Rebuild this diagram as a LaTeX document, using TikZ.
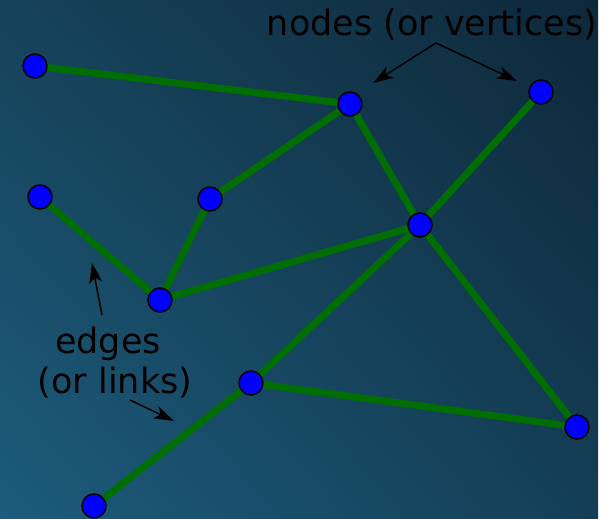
\documentclass[tikz,border=0pt]{standalone}
\usepackage{fontspec}
\setmainfont{DejaVu Sans}
\usetikzlibrary{arrows.meta,shadings}
\definecolor{bgul}{RGB}{22,66,90}
\definecolor{bgur}{RGB}{14,40,58}
\definecolor{bgll}{RGB}{28,92,124}
\definecolor{bglr}{RGB}{20,62,86}
\definecolor{linkgreen}{RGB}{0,110,0}

\begin{document}
\begin{tikzpicture}[x=1pt, y=-1pt, >={Stealth[length=20pt,width=13pt,inset=5pt]},
  vertex/.style={circle, draw=black, fill=blue, line width=1.5pt, inner sep=0pt, minimum size=24pt},
  link/.style={draw=linkgreen, line width=7pt},
  callout/.style={->, black, line width=1.5pt},
  lbl/.style={font=\fontsize{35}{39}\selectfont, text=black}]
	\useasboundingbox (0,0) rectangle (611,519);
	\shade[upper left=bgul, upper right=bgur, lower left=bgll, lower right=bglr] (0,0) rectangle (598,519);

	\node[vertex] (A) at (35,66)   {};
	\node[vertex] (B) at (350,104) {};
	\node[vertex] (C) at (541,92)  {};
	\node[vertex] (D) at (40,197)  {};
	\node[vertex] (E) at (210,199) {};
	\node[vertex] (F) at (420,225) {};
	\node[vertex] (G) at (160,300) {};
	\node[vertex] (H) at (251,383) {};
	\node[vertex] (I) at (577,427) {};
	\node[vertex] (J) at (94,506)  {};

	\path[link] (A) edge (B)
		(B) edge (E)
		(B) edge (F)
		(C) edge (F)
		(D) edge (G)
		(E) edge (G)
		(G) edge (F)
		(F) edge (H)
		(F) edge (I)
		(H) edge (I)
		(H) edge (J);

	% labels
	\node[lbl] (nodestxt) at (432,25) {nodes (or vertices)};
	\node[lbl] (edgestxt) at (108,344) {edges};
	\node[lbl] (linkstxt) at (115,383) {(or links)};

	\coordinate (nfrom) at (436,43);
	\coordinate (nto1)  at (373,83);
	\coordinate (nto2)  at (517,81);
	\coordinate (efrom1) at (102,315);
	\coordinate (eto1)   at (92,263);
	\coordinate (efrom2) at (130,400);
	\coordinate (eto2)   at (174,421);

	\draw[callout] (nfrom) -- (nto1);
	\draw[callout] (nfrom) -- (nto2);
	\draw[callout] (efrom1) -- (eto1);
	\draw[callout] (efrom2) -- (eto2);
\end{tikzpicture}
\end{document}
